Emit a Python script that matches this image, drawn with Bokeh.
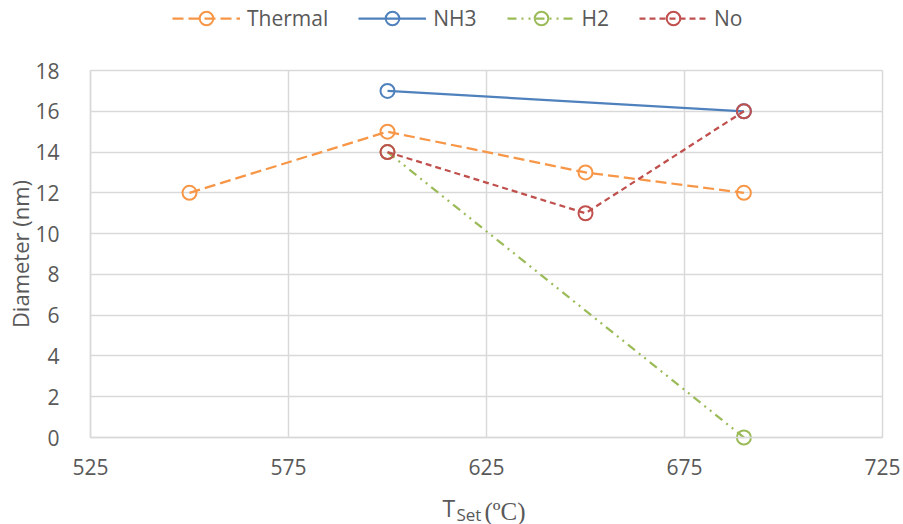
from bokeh.plotting import figure
from bokeh.models import Legend, LegendItem, Label, Range1d, FixedTicker
from bokeh.embed import file_html
from bokeh.resources import INLINE

# ---- data ----
thermal_x = [550, 600, 650, 690]
thermal_y = [12, 15, 13, 12]
nh3_x = [600, 690]
nh3_y = [17, 16]
h2_x = [600, 690]
h2_y = [14, 0]
no_x = [600, 650, 690]
no_y = [14, 11, 16]
x_ticks = [525, 575, 625, 675, 725]
y_ticks = [0, 2, 4, 6, 8, 10, 12, 14, 16, 18]

FONT = "Open Sans"
TXT = "#595959"
GRID = "#D9D9D9"

W, H = 903, 524
# pixel box of the data area (x 525..725, y 0..18)
PL, PR, PT, PB = 90, 882, 70, 437
X_MIN, X_MAX, Y_MIN, Y_MAX = 525, 725, 0, 18
KX = (PR - PL) / (X_MAX - X_MIN)
KY = (PB - PT) / (Y_MAX - Y_MIN)

p = figure(width=W, height=H, output_backend="svg", toolbar_location=None,
           x_range=Range1d(X_MIN - PL / KX, X_MAX + (W - PR) / KX),
           y_range=Range1d(Y_MIN - (H - PB) / KY, Y_MAX + PT / KY),
           min_border_left=0, min_border_right=0, min_border_top=0, min_border_bottom=0)
p.outline_line_color = None

for ax in (p.xaxis, p.yaxis):
    ax.axis_line_color = GRID
    ax.axis_line_width = 1.5
    ax.major_tick_line_color = None
    ax.minor_tick_line_color = None
    ax.major_label_text_font = FONT
    ax.major_label_text_font_size = "21px"
    ax.major_label_text_color = TXT

p.xaxis.ticker = FixedTicker(ticks=x_ticks)
p.xaxis.fixed_location = Y_MIN
p.xaxis.bounds = (X_MIN, X_MAX)
p.xaxis.major_label_standoff = 15

p.yaxis.ticker = FixedTicker(ticks=y_ticks)
p.yaxis.fixed_location = X_MIN
p.yaxis.bounds = (Y_MIN, Y_MAX)
p.yaxis.major_label_standoff = 25
p.yaxis.axis_label = "Diameter (nm)"
p.yaxis.axis_label_text_font = FONT
p.yaxis.axis_label_text_font_size = "22px"
p.yaxis.axis_label_text_font_style = "normal"
p.yaxis.axis_label_text_color = TXT
p.yaxis.axis_label_standoff = -3

p.xgrid.grid_line_color = GRID
p.ygrid.grid_line_color = GRID
p.xgrid.grid_line_width = 1.5
p.ygrid.grid_line_width = 1.5
p.xgrid.cross_bounds = (Y_MIN, Y_MAX)
p.ygrid.cross_bounds = (X_MIN, X_MAX)

series = [
    ("Thermal", thermal_x, thermal_y, "#F79646", "11 5"),
    ("NH3", nh3_x, nh3_y, "#4F81BD", "solid"),
    ("H2", h2_x, h2_y, "#9BBB59", "9 5 2 5 2 5"),
    ("No", no_x, no_y, "#C0504D", "6 4"),
]

items = []
for name, xs, ys, col, dash in series:
    l = p.line(xs, ys, line_color=col, line_width=2.25, line_dash=dash)
    s = p.scatter(xs, ys, marker="circle", size=14, line_color=col, line_width=2,
                  fill_color=None)
    items.append(LegendItem(label=name, renderers=[l, s]))

legend = Legend(items=items, orientation="horizontal", location=(172, 489),
                glyph_width=68, glyph_height=34, label_standoff=7, spacing=30,
                padding=0, margin=0, border_line_color=None, background_fill_alpha=0,
                label_text_font=FONT, label_text_font_size="21px", label_text_color=TXT)
p.add_layout(legend, "center")

# x-axis title "T_Set (ºC)" below the tick labels
def y_at(row):
    return Y_MIN + (PB - row) / KY

XC = (X_MIN + X_MAX) / 2
p.add_layout(Label(x=XC, y=y_at(507), x_offset=-44, text="T", text_font=FONT,
                   text_font_size="23px", text_color=TXT, text_baseline="alphabetic"))
p.add_layout(Label(x=XC, y=y_at(514), x_offset=-30, text="Set", text_font=FONT,
                   text_font_size="17px", text_color=TXT, text_baseline="alphabetic"))
p.add_layout(Label(x=XC, y=y_at(511), x_offset=-2, text="(ºC)", text_font="Liberation Serif",
                   text_font_size="25px", text_color=TXT, text_baseline="alphabetic"))

open("out.html", "w").write(file_html(p, INLINE))
